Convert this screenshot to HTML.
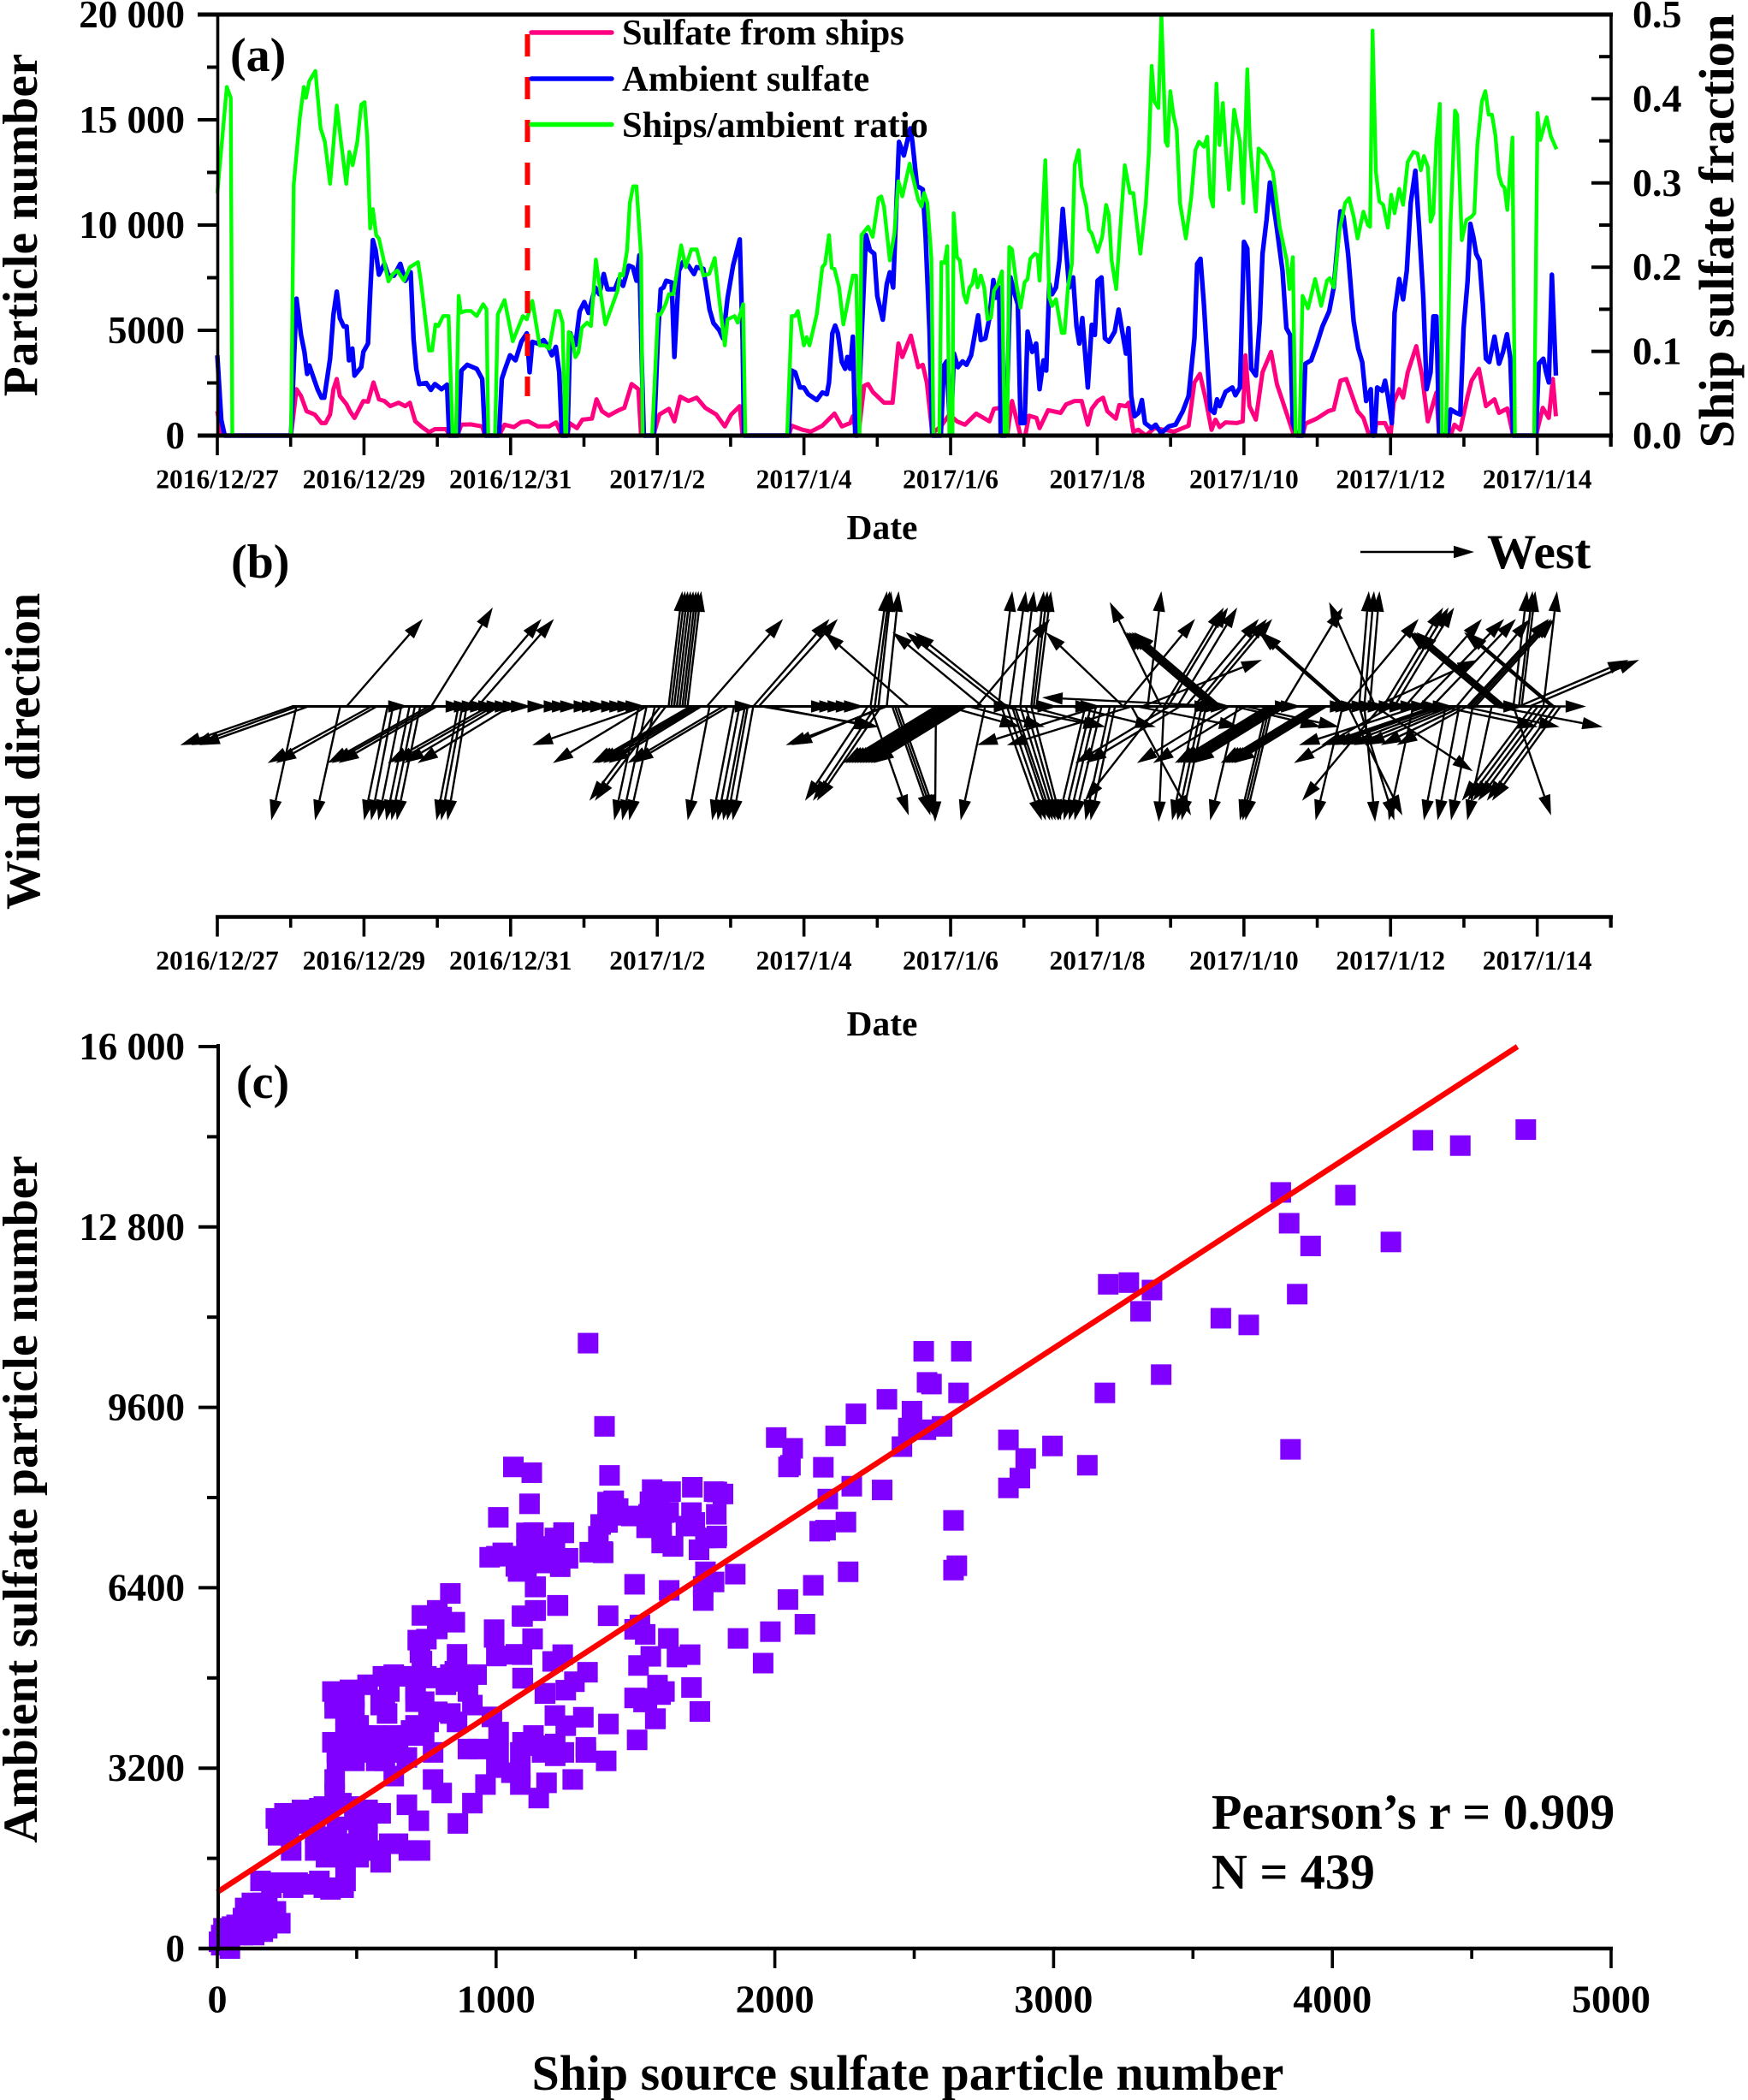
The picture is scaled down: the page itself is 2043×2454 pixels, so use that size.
<!DOCTYPE html>
<html lang="en">
<head>
<meta charset="utf-8">
<title>Ship sulfate, wind direction and correlation</title>
<style>
html,body{margin:0;padding:0;background:#fff;}
svg{display:block;}
text{font-family:"Liberation Serif",serif;font-weight:700;fill:#000;}
</style>
</head>
<body>
<svg id="fig" xmlns="http://www.w3.org/2000/svg" width="2043" height="2454" viewBox="0 0 2043 2454">
  <rect x="0" y="0" width="2043" height="2454" fill="#fff"/>
  <g id="panelA"></g>
  <g id="panelB"></g>
  <g id="panelC"></g>

  <text x="269" y="83" font-size="56">(a)</text>
  <text x="43" y="263" font-size="57.5" text-anchor="middle" transform="rotate(-90 43 263)">Particle number</text>
  <text x="2026" y="270" font-size="58.5" text-anchor="middle" transform="rotate(-90 2026 270)">Ship sulfate fraction</text>
  <text x="1031" y="630" font-size="41.5" text-anchor="middle">Date</text>
  <text x="727" y="52" font-size="42.5">Sulfate from ships</text>
  <text x="727" y="106" font-size="42.5">Ambient sulfate</text>
  <text x="727" y="160" font-size="42.5">Ships/ambient ratio</text>

  <text x="270" y="675" font-size="56">(b)</text>
  <text x="46" y="878" font-size="57.5" text-anchor="middle" transform="rotate(-90 46 878)">Wind direction</text>
  <text x="1738" y="664" font-size="57.5">West</text>
  <text x="1031" y="1210" font-size="41.5" text-anchor="middle">Date</text>

  <text x="276" y="1283" font-size="56">(c)</text>
  <text x="43" y="1752" font-size="57.5" text-anchor="middle" transform="rotate(-90 43 1752)">Ambient sulfate particle number</text>
  <text x="1061" y="2442" font-size="57.8" text-anchor="middle">Ship source sulfate particle number</text>
  <text x="1416" y="2137" font-size="58">Pearson’s r = 0.909</text>
  <text x="1416" y="2207" font-size="58">N = 439</text>
</svg>

<script>
/* ---------- Panel (a) data: hours since 2016/12/27 ---------- */
const dateLabels = ["2016/12/27","2016/12/29","2016/12/31","2017/1/2","2017/1/4","2017/1/6","2017/1/8","2017/1/10","2017/1/12","2017/1/14"];
const countTickValues = [0,5000,10000,15000,20000];
const countTickLabels = ["0","5000","10 000","15 000","20 000"];
const fractionTickValues = [0,0.1,0.2,0.3,0.4,0.5];
const fractionTickLabels = ["0.0","0.1","0.2","0.3","0.4","0.5"];
const shipEventHour = 101.5;

const ratioHours = [0,3.1,4.4,4.9,24.1,25,27,28.3,29,30.1,32.1,33.8,35.2,36.9,39.1,40.5,42.2,43.2,44.3,45.8,47.1,48.2,49.1,50,50.9,52,52.9,56,57.5,58.9,61.1,63,65.7,66.6,69.3,70.3,71.4,72.3,73.9,75.7,77,78.1,79,79.7,81.2,83,84.9,87,88.1,88.7,90.9,91.8,94,96.7,100,101.3,103.1,105.5,107.3,108.6,110.8,111.9,113,113.9,114.2,115,115.9,117.2,118.2,119.3,121,122.3,123.9,125.5,127,129,131,131.8,132.8,134.1,135,136.1,137.2,138.7,139.2,142.3,144.2,145.1,146.7,147.8,149.3,150.5,151.8,153.3,155.1,156.9,159.1,161,162.8,164.2,166.1,167,169.3,170.3,172.1,172.8,186.5,188,189.1,190,192,192.9,193.8,196.2,198,198.9,200.2,201.1,202,203.5,204.9,206.2,208,209.1,210.2,210.8,213,214.5,216.4,217.3,218.2,220.1,221.6,222.9,224.2,226.6,229.4,230.5,231.3,232.4,233.7,234.4,236.3,237,238,238.9,239.6,240.6,241,242.1,243,244.3,245.2,246.2,247.1,248,248.8,249.9,251,252.1,253.2,254.2,255.5,256.8,257.7,258.5,259.2,260.1,261.6,262.9,264.2,265.2,266.1,267.6,268.5,269.1,271,272.3,273.2,274.5,276.4,277.3,278.4,279.7,280.6,281.9,282.9,284.4,285.3,286.2,288.1,289.6,290.9,291.8,292.7,294.2,295.5,297,298.7,299.8,302.1,303.9,304.9,305.8,306.7,308,309,310.4,311,311.9,312.9,314,315.1,317,318.8,320.1,321.3,322.9,324,325,325.9,327,328,329.1,330,331.1,332.8,334.7,335.8,337.1,338,339.9,340.8,343,345.5,347.7,350,350.9,352,352.9,354.2,355.2,357,359.3,361.3,363.2,364.1,365.4,367.3,369.1,370.4,371.9,373.2,375.1,376.6,377.3,378.1,379.2,380.3,381.6,383.1,384.2,385.3,386.8,388.1,389.6,391.5,392.8,393.9,394.9,396.2,397.1,398,399,400.1,400.8,402.1,403.6,405.1,405.8,407.3,408.8,410.5,411.4,412.4,413.9,415,416.1,417.2,418.3,419.4,420.4,421.3,422.2,423.9,424.7,431,432.1,433,435.1,436.4,438.3];
const ratioValues = [.288,.414,.401,0,0,.298,.377,.414,.401,.421,.433,.365,.349,.299,.392,.349,.299,.337,.321,.349,.393,.396,.353,.246,.269,.238,.234,.183,.192,.196,.184,.2,.206,.184,.101,.101,.132,.13,.142,.142,0,0,.166,.146,.148,.148,.142,.156,.15,0,0,.144,.161,.112,.142,.138,.16,.107,.107,.103,.148,.148,.134,0,0,.123,.119,.093,.099,.128,.134,.13,.209,.168,.132,.152,.172,.192,.19,.22,.276,.296,.296,.212,0,0,.144,.144,.156,.168,.168,.196,.226,.2,.221,.221,.19,.192,.211,.164,.107,.138,.142,.134,.156,0,0,.142,.142,.148,.107,.117,.107,.144,.2,.204,.238,.199,.198,.176,.132,.156,.19,.19,0,.238,.248,.236,.282,.284,.272,.208,.24,.302,.284,.323,.28,.272,.288,.276,.212,0,0,.206,.205,.225,0,0,.264,.212,.208,.168,.158,.176,.18,.197,.176,.19,.176,.138,.14,.172,.18,.195,0,0,.224,.221,.178,.152,.182,.186,.21,.216,.214,.184,.327,.164,.154,.162,.122,.122,.176,.204,.321,.339,.296,.272,.244,.24,.218,.236,.274,.262,.208,.174,.244,.321,.288,.288,.216,.276,.337,.439,.397,.389,.5,.349,.344,.409,.381,.363,.276,.234,.284,.339,.349,.343,.355,.284,.272,.418,.345,.395,.345,.292,.387,.349,.276,.435,.345,.266,.341,.333,.313,.248,.208,.174,.212,0,0,.166,.151,.186,.154,.184,.187,.176,.244,.276,.282,.26,.234,.266,.25,.248,.481,.313,.278,.274,.247,.286,.264,.293,.274,.325,.337,.335,.315,.332,.319,.254,.264,.349,.394,0,0,.252,.386,.381,.232,.256,.26,.264,.345,.397,.409,.381,.381,.357,.31,.298,.294,.268,.354,0,0,.383,.351,.378,.356,.34];

const ambientHours = [0,1.3,2.4,24.1,25.9,27.4,28.5,29.4,30.1,32.8,34.1,35,36.9,38,39.1,40.1,41.4,42.3,43.1,44.2,44.9,47.1,47.8,49.3,50,50.9,51.8,52.9,54.7,56,57.8,59.9,61.5,63.3,64.2,65.1,66.1,68.4,69.9,71.2,73.4,75.2,75.9,78.8,79.9,81.8,84.9,86.7,87.6,92.2,93.1,94.2,95.8,97.6,99.5,101.3,102.2,103.1,104.9,106.8,108,109.5,110.8,111.9,112.8,114.6,115.5,117.2,118.6,120.1,121.5,123.7,125,126.5,127.7,130.1,131.4,132.8,134.7,136,137.2,138.1,139,139.6,142.9,144.2,145.1,146,146.9,148.7,149.6,151.1,152.4,154.2,156,156.9,159.1,160.2,161.1,162.4,164.2,165.5,167,168.8,171,171.9,172.4,187,188,189.1,190.7,192,193.4,196.2,198,199.5,200.2,201.3,202.2,203.1,204.4,205.5,206.2,207.1,208,208.8,209.5,212.3,213.6,215,216,217.8,219.1,220.1,221.2,222.3,223.1,224.7,226.8,227.5,229,230.9,231.8,233.1,234,236.8,237.8,238.7,240,241.1,242.4,243.9,245.2,246.7,249,249.9,251.4,252.7,254,254.9,255.9,256.4,258.1,259.6,261,262,262.9,264.2,265.2,266.7,268,269.1,270.4,271.3,272.3,273.2,274.5,275.6,276.7,277.7,278.8,280.1,281.2,282.1,283.1,284.9,286.2,287.2,288.1,289.4,290.5,291.8,293.7,295,297.4,298.2,299.1,300.2,301.5,302.6,303.6,305.8,307.1,308.9,311.4,313.6,316,317.9,319.8,320.7,321.8,322.9,325,326.3,327.2,328.1,330,332.2,333.2,334.7,336,337.1,338.4,339.9,341.2,342.1,343.4,344.5,346.4,348.6,349.9,351.1,352,353.3,355.2,356.1,358,359.8,361.7,363.9,365.4,367.6,368.6,370.1,371.9,373.4,374.7,376,377.5,378.1,378.8,379.6,381.3,382.2,383.1,384.4,385.3,386.8,388.1,389.3,390.6,392.1,393.4,394.7,395.8,397.1,398,399,399.9,402.7,403.6,405.5,406.8,407.9,409.2,410.1,411.1,412,413.1,414.2,415.2,416.3,418,419.5,420.8,422.1,423.2,424.1,431.6,432.5,434,434.9,435.8,436.8,438.1];
const ambientValues = [3813,756,0,0,6500,4779,3974,2928,3331,2204,1802,1802,3652,5744,6838,5583,5181,5181,3572,4135,2848,3250,3974,4376,6710,9284,8801,7643,8158,7594,7594,8158,7353,7755,4618,3170,2446,2494,2172,2446,2204,2414,0,0,3089,3363,3170,2687,0,0,2687,3170,3813,3572,4457,4859,3009,4457,4376,4537,4296,3813,4216,3009,0,0,4859,4296,5905,6340,5825,7031,6710,7675,6951,6951,7434,7112,8077,7997,7353,8560,3009,0,0,4618,6951,7031,7353,7273,3733,7836,8238,8077,7675,7997,7916,6870,5985,5342,5020,4618,6549,8077,9316,4618,0,0,3089,3009,2285,2285,1963,1689,2043,1963,2526,4859,5229,4859,3492,3170,3733,3170,4698,0,0,9525,8801,8640,6629,5503,7192,7755,7031,11054,13950,13306,14594,13950,11858,11697,9445,4940,0,0,3331,3524,0,3894,3250,3524,3363,3813,5712,4537,4618,5583,7385,6549,7031,0,0,7514,6710,6227,595,595,4940,3974,4376,2204,3572,3089,7192,6710,7031,8319,10764,8962,7031,7514,5181,4376,5583,2285,5261,4779,7353,7514,4618,4457,4940,5985,3894,5100,1883,917,1078,1689,595,354,515,113,434,515,1158,1883,4618,8158,8399,6227,1239,1078,1722,1400,2076,2285,1915,2285,9204,8882,3170,2848,5422,8640,10249,12019,10249,7836,5100,4779,595,0,0,3411,3572,4296,5181,5905,7031,10651,10410,8640,5422,4135,3492,1641,2204,0,0,2285,2124,2607,1883,595,5825,7434,6468,7836,11054,12582,9767,6549,2204,3009,5664,5664,113,0,1239,1078,998,5100,7353,10056,9445,8640,8319,6227,3652,3492,4698,3411,3974,4811,3652,0,0,3411,3652,3009,2526,7643,2848];

const shipHours = [0,1.3,24.1,25.9,27.4,29.2,31.9,34.1,35.4,36.9,38,39.1,40.1,42.3,43.4,44.9,47.8,49.3,51.1,52.9,54.7,56.6,59.3,61.5,63,64.8,67,69.3,71.2,74.8,76.3,78.5,79.9,83,86.7,87.6,92.2,94,97.1,99.5,101.8,104.9,108.6,110.9,112.8,114.6,115.3,117.7,119.5,122.6,124.1,125.9,128.1,131.4,133.2,135.6,137.8,138.7,142.7,144.7,147.8,149.6,151.5,154.2,156.9,159.7,163.3,166.1,168.2,171,171.9,187,188,191.6,194.3,198,202,204.4,207.1,208,209.3,209.8,211.7,213,214.5,218.2,221,222.9,224.2,227,229.4,230.9,232.2,234,236.8,239.6,242.1,244.7,248.4,252.7,254.2,256.4,257.7,258.5,260.1,262.9,264.4,265.7,268.1,269.1,271.9,276,277.8,280.6,282.9,284.9,286.2,288.1,289.9,291.3,294.1,295.2,297.4,298.3,299.8,301.5,303.9,306.7,313.2,317.9,319.8,321.6,323.5,325.4,326.7,328.1,330,333.7,335.6,336.5,337.8,339.9,342.1,344.9,346.8,350.1,352.4,355.2,356.1,359.8,363.6,365.4,367.6,369.5,373.2,375.1,377,378.5,379.4,382.2,384,385,386.8,388.1,389.6,392.4,394.3,396.2,399,399.9,403.6,404.9,406.8,409.2,410.5,412.9,415.2,418,419.5,422.2,424.1,431.6,433.8,435.8,437.1,438.1];
const shipValues = [1158,0,0,2204,1883,1158,998,595,595,998,2204,2687,1883,1480,1158,837,1641,1609,2526,1722,1641,1400,1561,1400,1561,676,402,161,306,306,0,0,515,531,434,0,0,515,402,644,676,434,434,628,0,0,595,354,756,805,1722,1158,949,1207,1319,2446,2204,0,0,998,1271,676,1850,1641,1802,1319,998,434,998,1400,0,0,467,274,193,467,1046,434,595,917,0,0,2365,2446,2076,1561,1561,4376,3733,4747,3250,3363,2526,113,434,998,676,515,1046,676,1271,1319,0,0,1641,0,0,949,837,354,1207,1078,1480,1641,1641,515,1271,1641,1802,1158,805,1448,1400,1561,193,274,0,354,193,467,2526,2928,1722,274,756,402,628,595,676,3813,1400,756,3009,3974,2446,998,0,0,563,805,1158,1239,2607,2687,1158,837,0,0,595,595,0,1561,2204,1802,3009,4248,2848,676,2043,0,0,515,274,1883,2607,3170,1400,1722,1078,1287,0,0,1319,837,2687,917];

/* ---------- Panel (b) data: base hour, eastward and northward wind components ---------- */
const windHours = [24.5,26.3,29.8,25.9,40.2,42.3,50.4,52.2,55.7,57.5,60.2,62.9,64.65,66.4,69.1,70.5,71.8,70,78.9,80.2,81.6,81.6,85.2,88.8,90.5,92.3,95.9,139.7,140.5,137.9,140.5,143.2,145,146.8,154.8,155.7,156.6,157.5,158.4,165.5,167.3,147.7,148.6,149.5,150.4,151.3,152.2,153,153.9,160.2,161.1,169.1,170.9,172.7,173.6,175.4,175.4,177.2,178.1,179,179.8,219.1,218.2,212.9,215.5,217.3,213.8,215.2,216.4,219.1,226.3,213.8,220.9,221.8,222.7,235.2,251.3,235.2,236.1,237,237.9,238.8,239.7,240.6,241.5,242.4,243.3,244.2,245.1,250.4,256.6,258.4,
288.5,299.2,256.6,258.4,260.1,261,262.8,264.6,266.4,284.1,285.9,287.6,289.4,292.1,293.8,308,311.6,315.1,309.8,320.5,322.2,323.6,299.2,331.1,336.4,343.5,344.4,345.3,346.2,347.1,348,348.8,349.7,358.6,359.5,360.4,361.2,362.1,363,333.8,343.5,344.4,345.3,368.3,380.8,384.3,393.2,398.5,399.4,400.3,402,403.8,405.6,407.4,409.1,375.4,391.4,373.7,370.1,402,406.5,410.9,417.1,379,430.4,432.2,434,435.7,437.9,439.6,424.2,238.9,246,265.5,256.6,279.7,301,332.9,336.4,400.3,407.4,418,
255.7,259.3,262.8,266.4,267.2,268.1,248.6,296.5,329.3,308.9,304.5,324.9,325.8,326.7,327.6,328.4,296.5,309.8,311.2,314.2,302.7,316.9,319.6,321.3,368.3,369.2,348.8,379,373.7,375.4,377.2,369.2,381.6,383.4,385.2,418.9,419.8,420.7,421.6,436.6,437.5,388.7,393.2,397.6,379,424.2,426,426.9,434,409.1,410,410.9,411.8,405.6,426,429.5,434];
const windU = [-6.54,-6.22,-6.38,-1.47,-1.47,4.46,-6.06,-5.9,-1.37,-1.28,-1.34,-1.37,-1.37,-1.37,-5.9,-5.9,-5.74,3.6,-1.28,-1.24,-1.12,4.37,4.46,-5.9,-5.84,-5.58,-5.42,-6.54,-5.48,-1.43,-1.43,-1.5,-4.15,-4.15,-5.74,-5.74,-5.74,-5.58,-5.42,-5.58,-5.58,.8,.8,.8,.8,.8,.8,.8,.8,4.46,-1.28,-1.28,-1.28,-1.28,-1.2,-1.2,4.46,4.62,6.86,6.6,6.3,-5.9,-5.4,-3.67,-3.67,-3.76,.96,.86,.74,.7,-4.94,2.23,2.23,2.23,2.23,-.05,-1.43,-5.42,-5.42,-5.42,-5.42,-5.42,-5.42,-5.42,-5.42,-5.42,-5.42,-5.42,-5.42,-5.26,-5.58,-5.42,
-7.12,-7.28,2.37,2.28,2.22,2.22,2.06,1.9,1.74,-1.58,-1.58,-1.58,-1.58,-1.43,-1.43,-4.3,-5.5,-5.5,-.3,-1.43,-1.43,-1.43,3.48,-5.38,-5.38,-5.38,-5.38,-5.38,-5.38,-5.38,-5.38,-5.38,-5.38,-5.4,-5.4,-5.4,-5.4,-5.4,-5.4,-1.58,-1.58,-1.58,-1.58,-1.58,-4.6,-5.7,-7,-6.65,-6.49,-6.33,-6.02,-5.7,-5.38,-4.75,-4.12,.63,-1.43,2.06,3.17,-1.27,-1.27,-1.27,-1.43,5.7,-4.12,-4.12,-4.12,-4.12,-4,-4,2.2,4.28,4.43,4.5,6,4.9,6,5.07,5.5,5.7,5.7,6.33,
.8,.95,.8,.73,.8,.85,4.28,-4.53,-10.6,-3,.8,-5.07,-5.07,-5.07,-5.07,-5.07,4.2,3.5,3.5,3.5,7,4.28,4.28,4.28,-4.9,-4.9,3.48,-2.7,.57,.57,.57,4.28,3.5,3.5,3.5,-5.2,-5.2,-5.2,-5.2,-5.1,-5.1,4.5,5,4.9,6,.8,.8,.8,.8,4.75,4.6,4.6,4.6,4.28,6.4,6.4,2.5];
const windV = [-2.26,-2.26,-2.26,-6.66,-6.66,5.11,-3.31,-3.31,-6.66,-6.66,-6.66,-6.66,-6.66,-6.66,-3.31,-3.31,-3.31,5.78,-6.66,-6.66,-6.66,5.11,5.11,-3.31,-3.31,-3.31,-3.31,-2.26,-3.31,-6.66,-6.66,-6.66,-5.51,-5.51,-3.31,-3.31,-3.31,-3.31,-3.31,-3.31,-3.31,6.74,6.74,6.74,6.74,6.74,6.74,6.74,6.74,5.11,-6.66,-6.66,-6.66,-6.66,-6.66,-6.66,5.11,5.11,-1.2,-1.2,-1.2,-2.26,-2.26,-5.51,-5.51,-5.51,6.74,6.74,6.74,6.74,4.34,-6.37,-6.37,-6.37,-6.37,-6.75,-6.66,-3.31,-3.31,-3.31,-3.31,-3.31,-3.31,-3.31,-3.31,-3.31,-3.31,-3.31,-3.31,4.34,4.34,4.34,
-2.26,-2.26,-6.66,-6.66,-6.66,-6.66,-6.66,-6.66,-6.66,-6.66,-6.66,-6.66,-6.66,-6.66,-6.66,-5.51,-3.31,-3.31,-6.75,-6.66,-6.66,-6.66,-6.37,-3.31,-3.31,-3.31,-3.31,-3.31,-3.31,-3.31,-3.31,-3.31,-3.31,-3.31,-3.31,-3.31,-3.31,-3.31,-3.31,-6.66,-6.66,-6.66,-6.66,-6.66,-5.51,-3.31,-2.26,-2.26,-2.26,-2.26,-2.26,-2.26,-2.26,-2.26,-2.26,-6.75,-6.66,-6.66,-6.37,-6.66,-6.66,-6.66,-6.66,-3.79,-5.51,-5.51,-5.51,-5.51,-5.51,-5.51,-6.37,-1.2,-1.2,-1.2,-1.2,-1.2,-1.2,-1.2,-1.2,-1.2,-1.2,-1.2,
6.74,6.74,6.74,6.74,6.74,6.74,5.11,4.34,.52,6.1,6.74,4.34,4.34,4.34,4.34,4.34,5.11,5.78,5.78,5.78,2.72,5.11,5.11,5.11,4.34,4.34,5.78,6.1,6.74,6.74,6.74,5.11,5.78,5.78,5.78,4.34,4.34,4.34,4.34,4.34,4.34,5.11,5.11,5.11,2.72,6.74,6.74,6.74,6.74,5.11,5.11,5.11,5.11,5.11,2.72,2.72,0];
const eastWindHours = [54.8,73.6,76.3,78.9,81.6,84.3,87,89.7,92.3,95,100.4,105.7,108.4,111.1,115.5,118.2,120.9,124.5,127.2,129.8,132.5,168.2,193.2,195.9,198.6,201.3,204,253,267.3,279.7,281.4,318.7,320.5,322.2,324,345,347,363,364.8,366.6,370.1,372.8,375.4,379,382.5,386.1,389.6,393.2,396.7,419.8];
const eastWindU = [1.4,1.4,1.4,1.4,1.4,1.4,1.4,1.4,1.4,1.4,1.4,1.4,1.4,1.4,1.4,1.4,1.4,1.4,1.4,1.4,1.4,1.4,1.4,1.4,1.4,1.4,1.4,1.4,1.4,1.4,1.4,1.4,1.4,1.4,1.4,1.4,1.4,1.4,1.4,1.4,1.4,1.4,1.4,1.4,1.4,1.4,1.4,1.4,1.4,1.4];
const windRangeHours = [24.4,438];
const westReferenceU = [6.65];

/* ---------- Panel (c) data ---------- */
const scatterYTickValues = [0,3200,6400,9600,12800,16000];
const scatterYTickLabels = ["0","3200","6400","9600","12 800","16 000"];
const scatterXTickValues = [0,1000,2000,3000,4000,5000];
const fitX = [0,4664];
const fitY = [1000,16000];
const shipSulfate = [1330,1389,1407,1120,1128,1062,1560,1626,1704,1782,1814,1552,1422,1438,1414,1375,1367,1336,1383,1485,1547,1602,1701,1790,1540,1681,1594,1634,1728,1790,1751,1594,
1109,1109,1242,1211,1203,1258,1230,1109,1140,1222,1140,1093,1402,1497,1621,1751,1858,1782,1743,1743,
1131,1093,1239,1203,1096,1328,1281,1250,1175,1497,1516,1535,1618,1555,1511,1696,1649,1579,1590,1497,1529,1701,1731,1571,1403,1211,1313,1250,
2005,2064,2056,2049,2218,2291,2402,2492,2479,2542,2600,2456,2174,2276,2385,2190,2255,2182,2161,2641,2653,2641,2263,2138,2047,2108,1984,1868,1958,
2534,2669,2546,2562,2659,2838,2900,2996,2879,2838,3121,3184,3196,3270,3353,3312,3386,
3600,3700,3815,3845,3922,3874,3850,4047,4210,4325,4459,4694,
1506,1395,1322,1134,1095,1212,1212,1275,1181,1153,1087,
1008,977,1001,1071,1079,1142,1220,1095,1142,836,789,734,852,789,719,750,734,993,993,1131,1001,1071,860,852,930,828,750,680,594,539,476,421,421,492,601,609,711,742,758,836,915,860,985,1095,1176,
460,429,539,617,695,742,774,680,570,453,421,633,774,805,421,938,1009,1001,1087,962,915,863,1009,1087,680,723,586,539,492,382,257,226,218,265,320,390,460,539,617,687,727,586,507,155,226,288,366,406,460,
124,163,210,226,92,179,45,92,30,6,14,45,53,132,147,
210,304,366,445,523,351,390,460,460,437,507,492,648,601,492,633,429,
413,476,492,460,523,570,601,413,429,523,570,648,680,711,758,789,820,899,899,836,633,711,711,774,617,586,727,727,805,
241,304,257,351,398,429,398,351,460,523,507,570,648,539,492,194,272,319,382,453,100,179,210,147,116,69,179,69,132,38,22,14,163,
1024,1134,1071,1212,1134,1243,1165,1384,1400,1588,1792,1557,1619,1713,1635,1792,1400,899,1165,1243,1055,1149,1322,1541,1572,1604];
const ambientSulfate = [10739,9263,8393,7889,8441,8543,8141,8105,8183,8105,8063,7925,7943,7805,7685,7523,7313,7031,7043,7673,7703,7733,7733,7703,7463,7493,7193,7133,7073,7283,7283,7403,
7373,7073,7373,7283,7133,6923,6773,6713,6413,6083,5993,5903,5903,6461,6353,6683,6641,6503,6425,6173,
5495,5213,5213,5093,4793,4901,4733,4583,4523,5663,5741,5573,5501,5183,5021,5213,5171,4673,4505,4445,4373,4631,4205,4073,3983,4133,4103,3953,
9065,8873,8573,8543,9095,9485,9743,9533,9233,9203,9263,8903,8537,8201,8135,7973,7565,7421,7403,7595,6791,6713,6683,6443,6191,5753,5621,5501,5063,
10595,10595,10043,10013,9857,9023,8693,8915,8345,8171,8573,9857,11783,11813,11681,11303,10181,
11181,11062,13413,12866,12463,11608,8855,13365,12534,14338,14243,14528,
3701,3329,3569,3779,3659,3629,3419,2999,2939,2669,2909,
7649,6941,6959,6959,6689,6419,6089,5891,5999,6299,5999,5909,5789,5669,5471,5489,5099,5657,5519,5489,5189,5219,5219,4919,4859,4739,4829,4829,4829,4679,4589,4439,4259,4199,4409,4169,4379,4379,4019,4169,4319,4019,4109,4799,4529,
3809,3659,3659,3689,3869,3779,3479,3389,3479,3389,2999,3059,2999,2759,2759,3539,3479,3209,3479,2909,2579,2219,3839,3119,2549,2267,2399,2459,2519,2519,2399,2159,2009,1739,2369,1619,1739,1979,1859,1739,1739,1529,1619,1199,1169,1169,1199,1049,1199,
809,809,659,449,539,359,359,239,149,119,59,0,389,479,659,
2309,2459,2489,2579,2279,2039,1979,1859,4139,4409,3959,3539,3479,3329,3329,3779,3359,
4559,4319,4439,4019,3779,3779,3659,3659,3479,3479,3329,3599,3779,3959,4139,4199,4679,4859,4559,4859,4859,4679,4559,4799,4559,4319,5249,5399,5879,
2399,2219,2039,2279,2399,2159,1799,1739,1559,1739,1979,1739,1859,2279,2279,1079,1079,1139,1079,1079,719,779,599,479,359,419,539,239,239,239,359,239,299,
7019,7079,6779,6899,7379,7379,6839,7019,7559,8099,8099,7739,7739,7559,7139,7319,7919,3539,3479,3479,3119,3599,3479,4439,4079,4559];

/* ---------- Scales ---------- */
const xTime = h => 254 + h * 3.571;
const yCount = v => 509 - v * 0.0246;
const yFraction = r => 509 - r * 984;
const WIND_Y = 825.5, WIND_SCALE = 20;
const xShip = v => 254 + v * 0.3258;
const yAmbient = v => 2277 - v * 0.065875;

/* ---------- Helpers ---------- */
const NS = 'http://www.w3.org/2000/svg';
function mk(parent, tag, attrs) {
  const el = document.createElementNS(NS, tag);
  for (const k in attrs) el.setAttribute(k, attrs[k]);
  parent.appendChild(el);
  return el;
}
function seg(parent, x1, y1, x2, y2, w, color) {
  return mk(parent, 'line', {x1, y1, x2, y2, stroke: color || '#000', 'stroke-width': w});
}
function label(parent, x, y, str, size, anchor) {
  const t = mk(parent, 'text', {x, y, 'font-size': size, 'text-anchor': anchor});
  t.textContent = str;
  return t;
}
function polyline(parent, hours, values, yFn, color, w) {
  const pts = hours.map((h, i) => xTime(h).toFixed(1) + ',' + yFn(values[i]).toFixed(1)).join(' ');
  return mk(parent, 'polyline', {points: pts, fill: 'none', stroke: color, 'stroke-width': w, 'stroke-linejoin': 'round'});
}
function arrow(parent, x0, y0, dx, dy, lw) {
  const g = mk(parent, 'g', {});
  const len = Math.hypot(dx, dy) || 1;
  const ux = dx / len, uy = dy / len;
  const hl = Math.min(24, len), hw = 7.2;
  const x1 = x0 + dx, y1 = y0 + dy;
  const bx = x1 - ux * hl, by = y1 - uy * hl;
  mk(g, 'line', {x1: x0, y1: y0, x2: bx, y2: by, stroke: '#000', 'stroke-width': lw});
  mk(g, 'polygon', {points: [x1 + ',' + y1, (bx - uy * hw) + ',' + (by + ux * hw), (bx + uy * hw) + ',' + (by - ux * hw)].join(' '), fill: '#000'});
  return g;
}

/* ---------- Panel A ---------- */
const A = document.getElementById('panelA');
{
  const s1 = polyline(A, shipHours, shipValues, yCount, '#ff0080', 5);
  
  
  const s2 = polyline(A, ambientHours, ambientValues, yCount, '#0000ff', 5.4);
  
  
  const s3 = polyline(A, ratioHours, ratioValues, yFraction, '#00ff00', 4.4);
  
  

  const ev = mk(A, 'line', {x1: xTime(shipEventHour), y1: 17, x2: xTime(shipEventHour), y2: 463, stroke: '#ff0000', 'stroke-width': 6, 'stroke-dasharray': '26 24', 'stroke-dashoffset': '27'});
  
  

  [[38, '#ff0080', 'sulfate-from-ships'], [92, '#0000ff', 'ambient-sulfate'], [145.5, '#00ff00', 'ships-ambient-ratio']].forEach(function (row) {
    const sw = seg(A, 621, row[0], 715, row[0], 5.4, row[1]);
    sw.setAttribute('stroke-linecap', 'round');
    
    
  });

  const frameT = seg(A, 231, 17, 1885, 17, 5);
  
  
  const frameB = seg(A, 231, 509, 1885, 509, 5);
  
  
  const frameL = seg(A, 254.5, 15, 254.5, 511, 3.6);
  
  
  const frameR = seg(A, 1883, 15, 1883, 522, 3.6);
  
  

  countTickValues.forEach(function (v, i) {
    const t = seg(A, 231, yCount(v), 254, yCount(v), 4);
    
    
    const l = label(A, 216, yCount(v) + 15, countTickLabels[i], 45, 'end');
    
    
    if (i < countTickValues.length - 1) {
      const mid = (v + countTickValues[i + 1]) / 2;
      const m = seg(A, 242, yCount(mid), 254, yCount(mid), 4);
      
      
    }
  });
  fractionTickValues.forEach(function (v, i) {
    const t = seg(A, 1860, yFraction(v), 1883, yFraction(v), 4);
    
    
    const l = label(A, 1908, yFraction(v) + 15, fractionTickLabels[i], 46, 'start');
    
    
    if (i < fractionTickValues.length - 1) {
      const mid = (v + fractionTickValues[i + 1]) / 2;
      const m = seg(A, 1869, yFraction(mid), 1883, yFraction(mid), 4);
      
      
    }
  });
  dateLabels.forEach(function (d, i) {
    const h = i * 48;
    const t = seg(A, xTime(h), 509, xTime(h), 532, 3.6);
    
    
    const m = seg(A, xTime(h + 24), 509, xTime(h + 24), 522, 3.6);
    
    
    const l = label(A, xTime(h), 570.5, d, 31.5, 'middle');
    
    
  });
}

/* ---------- Panel B ---------- */
const B = document.getElementById('panelB');
{
  const base = seg(B, xTime(windRangeHours[0]), WIND_Y, xTime(windRangeHours[1]), WIND_Y, 3);
  
  
  windHours.forEach(function (h, i) {
    const a = arrow(B, xTime(h), WIND_Y, windU[i] * WIND_SCALE, -windV[i] * WIND_SCALE, 2.4);
    
    
  });
  eastWindHours.forEach(function (h, i) {
    const a = arrow(B, xTime(h), WIND_Y, eastWindU[i] * WIND_SCALE, 0, 2.4);
    
    
  });
  const ref = arrow(B, 1590, 645, westReferenceU[0] * WIND_SCALE, 0, 2.4);
  
  

  const ax = seg(B, 252, 1071.5, 1885, 1071.5, 4.6);
  
  
  const endTick = seg(B, 1883, 1071.5, 1883, 1084, 3.6);
  
  
  dateLabels.forEach(function (d, i) {
    const h = i * 48;
    const t = seg(B, xTime(h), 1071.5, xTime(h), 1094.5, 3.6);
    
    
    const m = seg(B, xTime(h + 24), 1071.5, xTime(h + 24), 1084, 3.6);
    
    
    const l = label(B, xTime(h), 1133, d, 31.5, 'middle');
    
    
  });
}

/* ---------- Panel C ---------- */
const C = document.getElementById('panelC');
{
  shipSulfate.forEach(function (v, i) {
    const r = mk(C, 'rect', {x: xShip(v) - 12, y: yAmbient(ambientSulfate[i]) - 12, width: 24, height: 24, fill: '#8000ff'});
    
    
  });
  const fit = mk(C, 'line', {x1: xShip(fitX[0]), y1: yAmbient(fitY[0]), x2: xShip(fitX[1]), y2: yAmbient(fitY[1]), stroke: '#ff0000', 'stroke-width': 6.5});
  
  

  const axL = seg(C, 255, 1220, 255, 2280, 4);
  
  
  const axB = seg(C, 232, 2277, 1885, 2277, 4.6);
  
  

  scatterYTickValues.forEach(function (v, i) {
    const t = seg(C, 232, yAmbient(v), 255, yAmbient(v), 4);
    
    
    const l = label(C, 216, yAmbient(v) + 15, scatterYTickLabels[i], 45, 'end');
    
    
    if (i < scatterYTickValues.length - 1) {
      const mid = (v + scatterYTickValues[i + 1]) / 2;
      const m = seg(C, 242, yAmbient(mid), 255, yAmbient(mid), 4);
      
      
    }
  });
  scatterXTickValues.forEach(function (v, i) {
    const t = seg(C, xShip(v), 2277, xShip(v), 2300, 3.6);
    
    
    const l = label(C, xShip(v), 2351.5, String(v), 46, 'middle');
    
    
    if (i < scatterXTickValues.length - 1) {
      const mid = (v + scatterXTickValues[i + 1]) / 2;
      const m = seg(C, xShip(mid), 2277, xShip(mid), 2289, 3.6);
      
      
    }
  });
}
</script>
</body>
</html>
